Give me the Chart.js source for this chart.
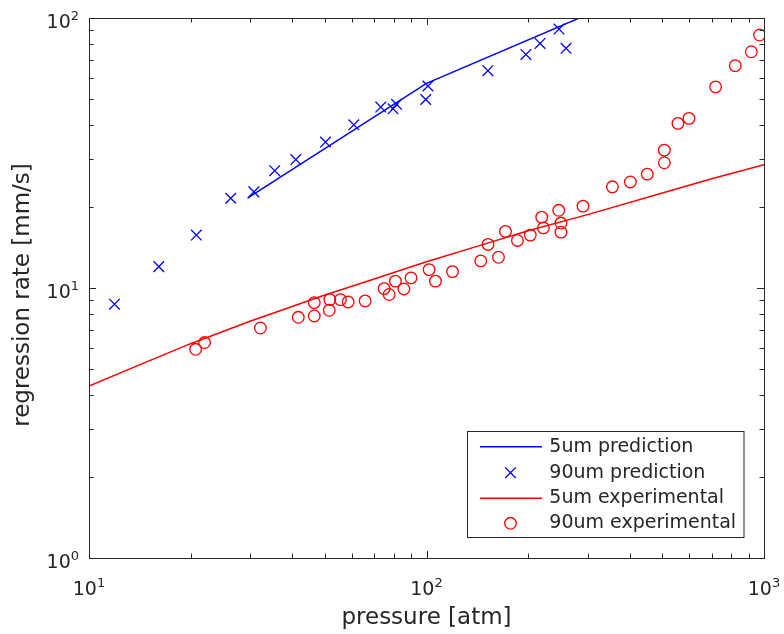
<!DOCTYPE html>
<html>
<head>
<meta charset="utf-8">
<script src="https://cdn.jsdelivr.net/npm/chart.js@4.4.0/dist/chart.umd.min.js"></script>
<style>
  html, body { margin: 0; padding: 0; background: #fff; }
  #wrap { width: 784px; height: 634px; }
</style>
</head>
<body>
<div id="wrap"><canvas id="chart" width="784" height="634"></canvas></div>
<script>
// tick positions and their exponent labels
const xTicks = [10, 100, 1000];
const xTickExp = ['1', '2', '3'];
const yTicks = [1, 10, 100];
const yTickExp = ['0', '1', '2'];

// 5um prediction (line)
const pred5Pressure = [29.5, 100, 300];
const pred5Rate = [21.5, 57.3, 103];

// 90um prediction (crosses)
const pred90Pressure = [11.9, 16.1, 20.8, 26.3, 30.8, 35.5, 41.0, 50.2, 60.9, 73.2, 79.6, 81.5, 99.5, 101, 152, 197, 217, 247, 259];
const pred90Rate = [8.71, 12.0, 15.7, 21.5, 22.7, 27.2, 29.9, 34.7, 40.2, 46.8, 46.1, 47.9, 49.9, 56.0, 63.8, 73.3, 80.5, 91.0, 77.2];

// 5um experimental (line)
const exp5Pressure = [10, 15, 20, 30, 50, 70, 100, 150, 200, 300, 500, 700, 1000];
const exp5Rate = [4.33, 5.36, 6.22, 7.53, 9.42, 10.8, 12.5, 14.6, 16.3, 18.7, 22.5, 25.4, 28.6];

// 90um experimental (circles)
const exp90Pressure = [20.7, 22.0, 32.2, 41.7, 46.5, 46.5, 51.5, 51.7, 55.6, 58.6, 65.8, 74.9, 77.5, 80.9, 85.7, 90.0,
  101.8, 106.3, 119.4, 144.8, 163.4, 152.2, 171.4, 186, 203, 219.5, 222, 246.5, 250.3, 250.3, 290.9, 355.5, 401.8,
  451, 506.7, 506.7, 555.9, 599.4, 719, 822, 917, 970];
const exp90Rate = [5.93, 6.28, 7.11, 7.79, 7.88, 8.83, 8.27, 9.06, 9.06, 8.88, 8.96, 9.95, 9.46, 10.6, 9.92, 10.9,
  11.7, 10.6, 11.5, 12.6, 13.0, 14.5, 16.2, 15.0, 15.7, 18.3, 16.7, 19.4, 17.4, 16.1, 20.1, 23.7, 24.7,
  26.4, 29.1, 32.4, 40.7, 42.5, 55.6, 66.6, 75.0, 86.5];

const axisColor = '#262626';
const fontFamily = "'DejaVu Sans', sans-serif";
const yTitle = 'regression rate [mm/s]';
const toPoints = (xs, ys) => xs.map((v, i) => ({ x: v, y: ys[i] }));

// box, inward ticks and 10^n labels, like matlab
const axesPlugin = {
  id: 'matlabAxes',
  afterDatasetsDraw(chart) {
    const { ctx, chartArea: a, scales: { x, y } } = chart;
    ctx.save();
    ctx.strokeStyle = axisColor;
    ctx.lineWidth = 1;

    const minorOf = (ticks) => {
      const out = [];
      for (let i = 0; i < ticks.length - 1; i++) {
        for (let k = 2; k <= 9; k++) out.push(ticks[i] * k);
      }
      return out;
    };

    ctx.beginPath();
    const xt = (v, len) => {
      const px = Math.round(x.getPixelForValue(v)) + 0.5;
      ctx.moveTo(px, a.bottom); ctx.lineTo(px, a.bottom - len);
      ctx.moveTo(px, a.top); ctx.lineTo(px, a.top + len);
    };
    const yt = (v, len) => {
      const py = Math.round(y.getPixelForValue(v)) + 0.5;
      ctx.moveTo(a.left, py); ctx.lineTo(a.left + len, py);
      ctx.moveTo(a.right, py); ctx.lineTo(a.right - len, py);
    };
    minorOf(xTicks).forEach(v => xt(v, 4.5));
    minorOf(yTicks).forEach(v => yt(v, 4.5));
    xTicks.forEach(v => xt(v, 7));
    yTicks.forEach(v => yt(v, 7));
    ctx.stroke();

    ctx.strokeRect(Math.round(a.left) + 0.5, Math.round(a.top) + 0.5,
      Math.round(a.right - a.left), Math.round(a.bottom - a.top));

    // tick labels
    ctx.fillStyle = axisColor;
    ctx.textBaseline = 'alphabetic';
    const baseFont = '19px ' + fontFamily;
    const expFont = '13px ' + fontFamily;
    const widthOf = (exp) => {
      ctx.font = baseFont; const w1 = ctx.measureText('10').width;
      ctx.font = expFont; const w2 = ctx.measureText(exp).width;
      return [w1, w2];
    };
    xTicks.forEach((v, i) => {
      const px = x.getPixelForValue(v);
      const [w1, w2] = widthOf(xTickExp[i]);
      const left = px - (w1 + w2) / 2;
      ctx.textAlign = 'left';
      ctx.font = baseFont; ctx.fillText('10', left, 595);
      ctx.font = expFont; ctx.fillText(xTickExp[i], left + w1, 587);
    });
    yTicks.forEach((v, i) => {
      const py = y.getPixelForValue(v);
      const [w1, w2] = widthOf(yTickExp[i]);
      const left = 79 - (w1 + w2);
      ctx.textAlign = 'left';
      ctx.font = baseFont; ctx.fillText('10', left, py + 10);
      ctx.font = expFont; ctx.fillText(yTickExp[i], left + w1, py + 2);
    });

    // y axis title, rotated
    ctx.translate(23, 295);
    ctx.rotate(-Math.PI / 2);
    ctx.font = '23px ' + fontFamily;
    ctx.textAlign = 'center';
    ctx.textBaseline = 'middle';
    ctx.fillText(yTitle, 0, 0);
    ctx.restore();
  }
};

// legend box inside the axes, lower right
const legendPlugin = {
  id: 'boxLegend',
  afterDraw(chart) {
    const { ctx } = chart;
    const box = { x: 467.5, y: 431.5, w: 276.5, h: 106 };
    const rowY = [446.7, 472.7, 498.3, 523.3];
    ctx.save();
    ctx.fillStyle = '#fff';
    ctx.fillRect(box.x, box.y, box.w, box.h);
    ctx.strokeStyle = axisColor;
    ctx.lineWidth = 1;
    ctx.strokeRect(box.x, box.y, box.w, box.h);
    chart.data.datasets.forEach((ds, i) => {
      const ry = rowY[i];
      if (ds.showLine) {
        ctx.strokeStyle = ds.borderColor;
        ctx.lineWidth = ds.borderWidth;
        ctx.beginPath(); ctx.moveTo(480, ry); ctx.lineTo(542, ry); ctx.stroke();
      } else {
        ctx.strokeStyle = ds.borderColor;
        ctx.fillStyle = ds.backgroundColor;
        ctx.lineWidth = ds.borderWidth;
        Chart.helpers.drawPoint(ctx, {
          pointStyle: ds.pointStyle, radius: ds.pointRadius, borderWidth: ds.borderWidth
        }, 510.5, ry);
      }
      ctx.fillStyle = axisColor;
      ctx.font = '19px ' + fontFamily;
      ctx.textAlign = 'left';
      ctx.textBaseline = 'middle';
      ctx.fillText(ds.label, 549.3, ry);
    });
    ctx.restore();
  }
};

new Chart(document.getElementById('chart'), {
  type: 'scatter',
  data: {
    datasets: [
      {
        label: '5um prediction',
        data: toPoints(pred5Pressure, pred5Rate),
        showLine: true, borderColor: '#0000ff', borderWidth: 1.5,
        pointRadius: 0, order: 4
      },
      {
        label: '90um prediction',
        data: toPoints(pred90Pressure, pred90Rate),
        showLine: false, pointStyle: 'crossRot', pointRadius: 7.5,
        borderColor: '#0000ff', backgroundColor: '#0000ff', borderWidth: 1.3, order: 3
      },
      {
        label: '5um experimental',
        data: toPoints(exp5Pressure, exp5Rate),
        showLine: true, borderColor: '#ff0000', borderWidth: 1.5,
        pointRadius: 0, order: 2
      },
      {
        label: '90um experimental',
        data: toPoints(exp90Pressure, exp90Rate),
        showLine: false, pointStyle: 'circle', pointRadius: 5.8,
        borderColor: '#ff0000', backgroundColor: 'rgba(0,0,0,0)', borderWidth: 1.3, order: 1
      }
    ]
  },
  options: {
    responsive: false,
    animation: false,
    events: [],
    layout: { padding: { top: 18, right: 20, left: 0, bottom: 0 } },
    plugins: { legend: { display: false }, tooltip: { enabled: false } },
    scales: {
      x: {
        type: 'logarithmic', min: 10, max: 1000,
        grid: { display: false, drawTicks: false },
        border: { display: false },
        ticks: { display: false },
        afterBuildTicks: (s) => { s.ticks = xTicks.map(v => ({ value: v })); },
        afterFit: (s) => { s.height = 76; },
        title: {
          display: true, text: 'pressure [atm]', color: axisColor,
          font: { family: fontFamily, size: 23 }, padding: { top: 0, bottom: 2 }
        }
      },
      y: {
        type: 'logarithmic', min: 1, max: 100,
        grid: { display: false, drawTicks: false },
        border: { display: false },
        ticks: { display: false },
        afterBuildTicks: (s) => { s.ticks = yTicks.map(v => ({ value: v })); },
        afterFit: (s) => { s.width = 89; }
      }
    }
  },
  plugins: [axesPlugin, legendPlugin]
});
</script>
</body>
</html>
